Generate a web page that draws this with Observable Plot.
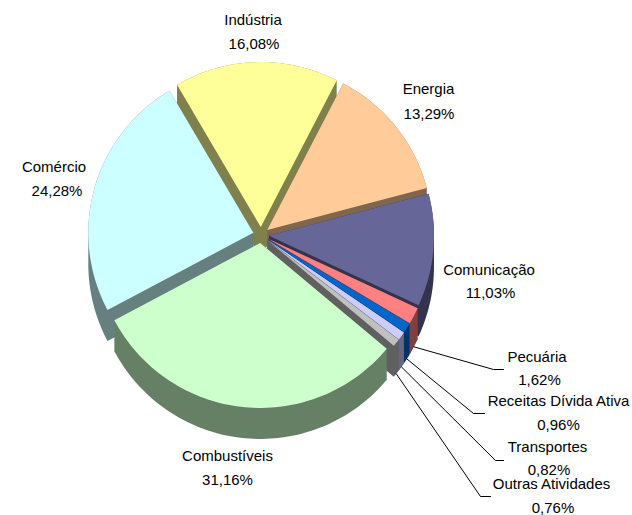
<!DOCTYPE html>
<html lang="pt">
<head>
<meta charset="utf-8">
<title>Participação por setor</title>
<script src="https://cdn.jsdelivr.net/npm/d3@7"></script>
<script src="https://cdn.jsdelivr.net/npm/@observablehq/plot@0.6"></script>
<style>
  html, body { margin: 0; padding: 0; background: #fff; }
  svg { display: block; }
  g[aria-label="setor"] text { letter-spacing: -0.05px; }
  g[aria-label="percentual"] text { letter-spacing: -0.7px; }
</style>
</head>
<body>
<div id="chart"></div>
<script>
// Sectors in clockwise order, starting at the upper left edge of Indústria.
const sectors = ["Indústria", "Energia", "Comunicação", "Pecuária", "Receitas Dívida Ativa",
                 "Transportes", "Outras Atividades", "Combustíveis", "Comércio"];
const shares = [16.08, 13.29, 11.03, 1.62, 0.96, 0.82, 0.76, 31.16, 24.28];
const topColors = ["#FFFF99", "#FFCC99", "#666699", "#FF8080", "#0066CC",
                   "#CCCCFF", "#C0C0C0", "#CCFFCC", "#CCFFFF"];

// Pie geometry, in pixels around the centre of the pie.
const width = 632, height = 515;
const centre = [260.5, 234.5];
const radius = 165, explode = 8, depth = 31;
const startAngle = -30.5;

// Label centres in page pixels: [name x, name y, value x, value y].
const labelPlacement = [
  [252.5, 20, 253.5, 44], [428, 89, 428.5, 114], [488.5, 270, 490, 293],
  [536.5, 357, 539, 380], [558, 401, 558, 425], [547, 447, 548.5, 470],
  [551, 484, 552.5, 508], [227, 456, 227, 480], [53.5, 167, 56.5, 191]
];
// Elbow and end of the leader lines of the four thin sectors, in page pixels.
const leaderPlacement = {
  "Pecuária": [[493, 369], [503, 369]],
  "Receitas Dívida Ativa": [[473, 413], [484, 413]],
  "Transportes": [[495, 460], [503, 460]],
  "Outras Atividades": [[480, 496], [490, 496]]
};

const rad = d => d * Math.PI / 180;
const polar = (deg, r) => [r * Math.sin(rad(deg)), -r * Math.cos(rad(deg))];

// Build each wedge from its share of the full circle.
const total = d3.sum(shares);
let running = startAngle;
const wedges = sectors.map((name, i) => {
  const a0 = running, a1 = running + shares[i] / total * 360;
  running = a1;
  const mid = (a0 + a1) / 2;
  const [ox, oy] = polar(mid, explode);
  const steps = Math.max(2, Math.ceil((a1 - a0) / 1.5));
  const rim = d3.range(steps + 1).map(k => {
    const [x, y] = polar(a0 + (a1 - a0) * k / steps, radius);
    return [x + ox, y + oy];
  });
  const face = [[ox, oy], ...rim];
  const solid = d3.polygonHull([...face, ...face.map(([x, y]) => [x, y + depth])]);
  const c = d3.rgb(topColors[i]);
  const dark = d3.rgb(c.r / 2, c.g / 2, c.b / 2).formatHex();
  return {name, share: shares[i], mid, ox, oy, face, solid, color: topColors[i], dark, place: labelPlacement[i]};
});

// Back-to-front painting order.
const paintOrder = ["Indústria", "Energia", "Comércio", "Comunicação", "Pecuária",
                    "Receitas Dívida Ativa", "Transportes", "Outras Atividades", "Combustíveis"];
const painted = paintOrder.map(n => wedges.find(w => w.name === n));

const wedgeMarks = painted.flatMap(w => [
  Plot.line(w.solid, {x: d => d[0], y: d => d[1], fill: w.dark, stroke: "none", curve: "linear-closed"}),
  Plot.line(w.face, {x: d => d[0], y: d => d[1], fill: w.color, stroke: "none", curve: "linear-closed"})
]);

// Leader lines start on the lower rim of their wedge, in pie coordinates.
const leaderMarks = wedges.filter(w => leaderPlacement[w.name]).map(w => {
  const [x0, y0] = polar(w.mid, radius);
  const from = [x0 + w.ox, y0 + w.oy + depth];
  const rest = leaderPlacement[w.name].map(([x, y]) => [x - centre[0], y - centre[1]]);
  return Plot.line([from, ...rest], {x: d => d[0], y: d => d[1], stroke: "#000", strokeWidth: 1});
});

const pct = v => d3.format(".2f")(v).replace(".", ",") + "%";
const font = {fontFamily: "'Liberation Sans', Arial, sans-serif", fill: "#000", textAnchor: "middle", lineAnchor: "middle"};

const chart = Plot.plot({
  width, height,
  margin: 0,
  style: {background: "#fff", overflow: "visible"},
  x: {domain: [-centre[0], width - centre[0]], range: [0, width], axis: null},
  y: {domain: [-centre[1], height - centre[1]], range: [0, height], axis: null},
  marks: [
    ...wedgeMarks,
    ...leaderMarks,
    Plot.text(wedges, {
      x: d => d.place[0] - centre[0], y: d => d.place[1] - centre[1],
      text: d => d.name, fontSize: 15, ariaLabel: "setor", ...font
    }),
    Plot.text(wedges, {
      x: d => d.place[2] - centre[0], y: d => d.place[3] - centre[1],
      text: d => pct(d.share), fontSize: 15, ariaLabel: "percentual", ...font
    })
  ]
});
document.getElementById("chart").append(chart);
</script>
</body>
</html>
